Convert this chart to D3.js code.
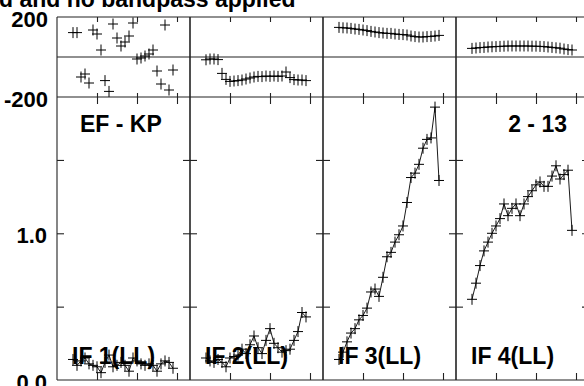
<!DOCTYPE html>
<html><head><meta charset="utf-8">
<script src="https://cdn.jsdelivr.net/npm/d3@7"></script>
<style>
body{margin:0;background:#fff}
svg{display:block}
text{font-family:"Liberation Sans",Arial,Helvetica,sans-serif;font-weight:bold;fill:#000}
</style>
</head><body><svg id="chart" width="584" height="386"></svg>
<script>
// ---------------- data ----------------
const titleText = "d and no bandpass applied";
const baselineLabel = "EF - KP";
const timeLabel = "2 - 13";
const ifLabels = ["IF 1(LL)", "IF 2(LL)", "IF 3(LL)", "IF 4(LL)"];
const channels = d3.range(4, 30); // 26 channels

const phaseIF1 = [122,122,-100,-85,-130,135,115,35,-118,-172,165,95,55,75,105,170,-10,-5,5,15,35,-70,-135,160,-165,-65];
const phaseIF2 = [-14,-10,-10,-13,-82,-112,-122,-120,-118,-115,-110,-105,-100,-97,-98,-95,-97,-95,-97,-95,-75,-103,-113,-115,-115,-118];
const phaseIF3 = [148,146,145,143,140,138,135,132,128,125,122,120,118,118,115,113,112,110,105,102,100,100,102,103,105,108];
const phaseIF4 = [43,45,47,48,50,51,52,53,54,55,55,55,55,55,55,54,54,53,52,50,48,46,44,40,37,35];

const ampIF1 = [0.14,0.10,0.13,0.15,0.11,0.10,0.09,0.05,0.12,0.17,0.09,0.10,0.12,0.10,0.06,0.15,0.13,0.11,0.10,0.11,0.10,0.06,0.11,0.13,0.12,0.08];
const ampIF2 = [0.15,0.13,0.12,0.14,0.12,0.09,0.15,0.16,0.17,0.21,0.18,0.24,0.30,0.22,0.18,0.27,0.35,0.25,0.22,0.19,0.20,0.21,0.27,0.33,0.46,0.43];
const ampIF3 = [0.14,0.19,0.26,0.32,0.35,0.41,0.44,0.49,0.60,0.62,0.57,0.70,0.84,0.87,0.94,0.99,1.05,1.21,1.38,1.41,1.47,1.58,1.64,1.65,1.86,1.36];
const ampIF4 = [0.55,0.66,0.78,0.88,0.94,1.00,1.05,1.10,1.20,1.12,1.17,1.20,1.12,1.20,1.25,1.29,1.33,1.35,1.32,1.32,1.39,1.46,1.37,1.40,1.43,1.02];

const xTickValues = [10, 20, 30];
const phaseLabelValues = [200, -200];
const ampTickValues = [0.5, 1.0, 1.5];
const ampLabelValues = [1.0, 0.0];

// ---------------- layout ----------------
const phases = [phaseIF1, phaseIF2, phaseIF3, phaseIF4];
const amps = [ampIF1, ampIF2, ampIF3, ampIF4];
const left = 57, panelW = 133;
const phaseTop = 17, phaseBot = 97, ampBot = 380;
const frameColor = "#222";

const svg = d3.select("#chart");

const yPhase = d3.scaleLinear().domain([-200, 200]).range([phaseBot, phaseTop]);
const yAmp = d3.scaleLinear().domain([0, 1.929]).range([ampBot, phaseBot]);

// title
svg.append("text").attr("x", -1).attr("y", 7).attr("font-size", 23).text(titleText);

const crossPath = "M-5,0H5M0,-5.5V5.5";

phases.forEach((ph, p) => {
  const x0 = left + p * panelW;
  const x = d3.scaleLinear().domain([0, 33.25]).range([x0, x0 + panelW]);
  const g = svg.append("g");

  // frame lines
  const fr = g.append("g").attr("stroke", frameColor).attr("stroke-width", 1.1).attr("fill", "none");
  fr.append("line").attr("x1", x0).attr("x2", x0).attr("y1", phaseTop).attr("y2", ampBot);
  fr.append("line").attr("x1", x0 + panelW).attr("x2", x0 + panelW).attr("y1", phaseTop).attr("y2", ampBot);
  [200, 0, -200].forEach(v => fr.append("line").attr("x1", x0).attr("x2", x0 + panelW).attr("y1", yPhase(v)).attr("y2", yPhase(v)));
  fr.append("line").attr("x1", x0).attr("x2", x0 + panelW).attr("y1", ampBot).attr("y2", ampBot);

  // x ticks via axes
  const axStyle = sel => { sel.select(".domain").remove(); sel.selectAll("line").attr("stroke", frameColor).attr("stroke-width", 1.1); sel.selectAll("text").remove(); };
  g.append("g").attr("transform", `translate(0,${phaseTop})`).call(d3.axisTop(x).tickValues(xTickValues).tickSize(-5)).call(axStyle);
  g.append("g").attr("transform", `translate(0,${phaseBot})`).call(d3.axisBottom(x).tickValues(xTickValues).tickSize(-4)).call(axStyle);
  g.append("g").attr("transform", `translate(0,${phaseBot})`).call(d3.axisTop(x).tickValues(xTickValues).tickSize(-7)).call(axStyle);
  g.append("g").attr("transform", `translate(0,${ampBot})`).call(d3.axisBottom(x).tickValues(xTickValues).tickSize(-7)).call(axStyle);
  // y ticks amplitude
  g.append("g").attr("transform", `translate(${x0},0)`).call(d3.axisLeft(yAmp).tickValues(ampTickValues).tickSize(-7)).call(axStyle);
  g.append("g").attr("transform", `translate(${x0 + panelW},0)`).call(d3.axisRight(yAmp).tickValues(ampTickValues).tickSize(-7)).call(axStyle);

  // phase crosses
  g.append("g").selectAll("path").data(ph).join("path")
    .attr("transform", (d, i) => `translate(${x(channels[i])},${yPhase(d)})`)
    .attr("d", crossPath).attr("stroke", "#000").attr("stroke-width", 1).attr("fill", "none");

  // amplitude line + crosses
  const am = amps[p];
  g.append("path").datum(am)
    .attr("d", d3.line().x((d, i) => x(channels[i])).y(d => yAmp(d)))
    .attr("fill", "none").attr("stroke", "#000").attr("stroke-width", 0.9);
  g.append("g").selectAll("path").data(am).join("path")
    .attr("transform", (d, i) => `translate(${x(channels[i])},${yAmp(d)})`)
    .attr("d", crossPath).attr("stroke", "#000").attr("stroke-width", 1).attr("fill", "none");

  // IF label
  g.append("text").attr("x", x0 + 15).attr("y", 364).attr("font-size", 23).text(ifLabels[p]);
});

// y-axis labels (left of first panel)
const labStyle = sel => { sel.select(".domain").remove(); sel.selectAll("line").remove(); sel.selectAll("text").attr("font-size", 22).attr("font-family", null).attr("dy", "0.44em").attr("fill", "#000"); };
svg.append("g").attr("transform", `translate(${left},0)`)
  .call(d3.axisLeft(yPhase).tickValues(phaseLabelValues).tickSize(0).tickPadding(9).tickFormat(d => String(d))).call(labStyle);
svg.append("g").attr("transform", `translate(${left},0)`)
  .call(d3.axisLeft(yAmp).tickValues(ampLabelValues).tickSize(0).tickPadding(10).tickFormat(d => d.toFixed(1))).call(labStyle);

// panel annotations
svg.append("text").attr("x", 80).attr("y", 132).attr("font-size", 23).text(baselineLabel);
svg.append("text").attr("x", 567).attr("y", 132).attr("font-size", 23).attr("text-anchor", "end").text(timeLabel);
</script>
</body></html>
